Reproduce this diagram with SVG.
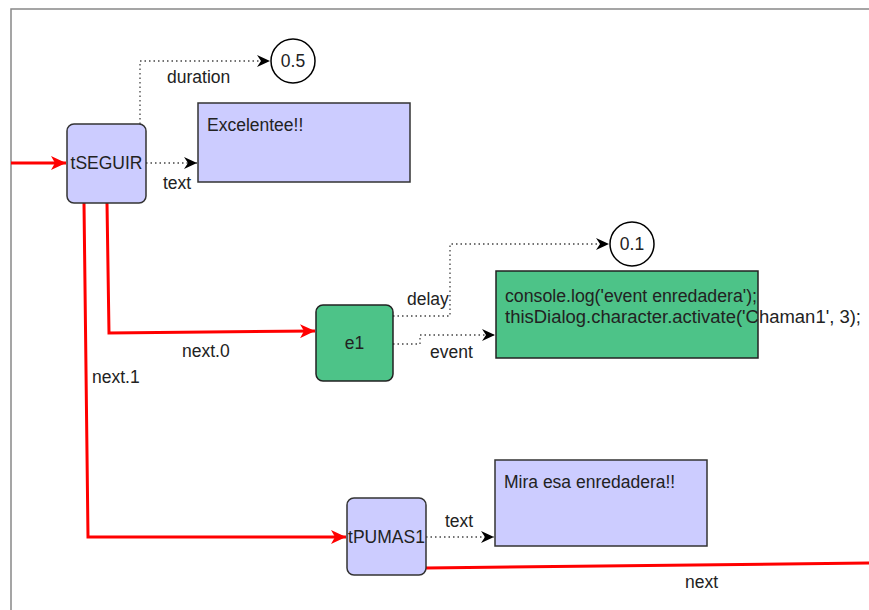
<svg xmlns="http://www.w3.org/2000/svg" width="869" height="610" viewBox="0 0 869 610">
<defs>
<style>
text{font-family:"Liberation Sans",Arial,sans-serif;font-size:17.5px;fill:#222}
.blue{fill:#ccccff;stroke:#333;stroke-width:1.5}
.green{fill:#4dc388;stroke:#222;stroke-width:1.5}
.circ{fill:#fff;stroke:#000;stroke-width:1.5}
.red{fill:none;stroke:#ff0000;stroke-width:3}
.dot{fill:none;stroke:#444;stroke-width:1.3;stroke-dasharray:1.5 3}
</style>
<marker id="ar" markerWidth="16" markerHeight="14" refX="15" refY="7" orient="auto" markerUnits="userSpaceOnUse">
<path d="M0,0 L15,7 L0,14 L4,7 Z" fill="#ff0000"/>
</marker>
<marker id="ab" markerWidth="14" markerHeight="12" refX="13" refY="6" orient="auto" markerUnits="userSpaceOnUse">
<path d="M0,0 L13,6 L0,12 L4,6 Z" fill="#000"/>
</marker>
</defs>
<rect width="869" height="610" fill="#fff"/>
<path d="M11,610 V9 H869" fill="none" stroke="#888" stroke-width="1.5"/>
<g id="connectors">
<path class="red" d="M11,163 H66" marker-end="url(#ar)"/>
<path class="dot" d="M140,124 V61 H270" marker-end="url(#ab)"/>
<text x="167" y="83">duration</text>
<path class="dot" d="M146,163 H197" marker-end="url(#ab)"/>
<text x="163" y="189">text</text>
<path class="red" d="M107,203 L109,333 L315,331" marker-end="url(#ar)"/>
<text x="182" y="357">next.0</text>
<path class="red" d="M84,203 L88,537 L346,537" marker-end="url(#ar)"/>
<text x="92" y="383">next.1</text>
<path class="dot" d="M393,316 H450 V244 H609" marker-end="url(#ab)"/>
<text x="407" y="305">delay</text>
<path class="dot" d="M393,344 H420 V335 H495" marker-end="url(#ab)"/>
<text x="430" y="358">event</text>
<path class="dot" d="M426,537 H494" marker-end="url(#ab)"/>
<text x="445" y="527">text</text>
<path class="red" d="M426,568 L869,563"/>
<text x="685" y="588">next</text>
</g>
<g id="tSEGUIR">
<rect class="blue" x="67" y="124" width="79" height="79" rx="7"/>
<text x="106.5" y="169" text-anchor="middle">tSEGUIR</text>
</g>
<g id="excelentee">
<rect class="blue" x="198" y="103" width="212" height="79"/>
<text x="207" y="131">Excelentee!!</text>
</g>
<g id="c05">
<circle class="circ" cx="293" cy="61" r="22"/>
<text x="293" y="67" text-anchor="middle">0.5</text>
</g>
<g id="e1">
<rect class="green" x="316" y="305" width="77" height="76" rx="7"/>
<text x="354.5" y="349" text-anchor="middle">e1</text>
</g>
<g id="code">
<rect class="green" x="496" y="271" width="262" height="87"/>
<text x="505" y="302" textLength="252" lengthAdjust="spacingAndGlyphs">console.log('event enredadera');</text>
<text x="505" y="323" textLength="356" lengthAdjust="spacingAndGlyphs">thisDialog.character.activate('Chaman1', 3);</text>
</g>
<g id="c01">
<circle class="circ" cx="632" cy="244" r="22"/>
<text x="632" y="250" text-anchor="middle">0.1</text>
</g>
<g id="tPUMAS1">
<rect class="blue" x="347" y="498" width="79" height="77" rx="7"/>
<text x="386.5" y="543" text-anchor="middle">tPUMAS1</text>
</g>
<g id="mira">
<rect class="blue" x="495" y="460" width="212" height="86"/>
<text x="504" y="488">Mira esa enredadera!!</text>
</g>
</svg>
